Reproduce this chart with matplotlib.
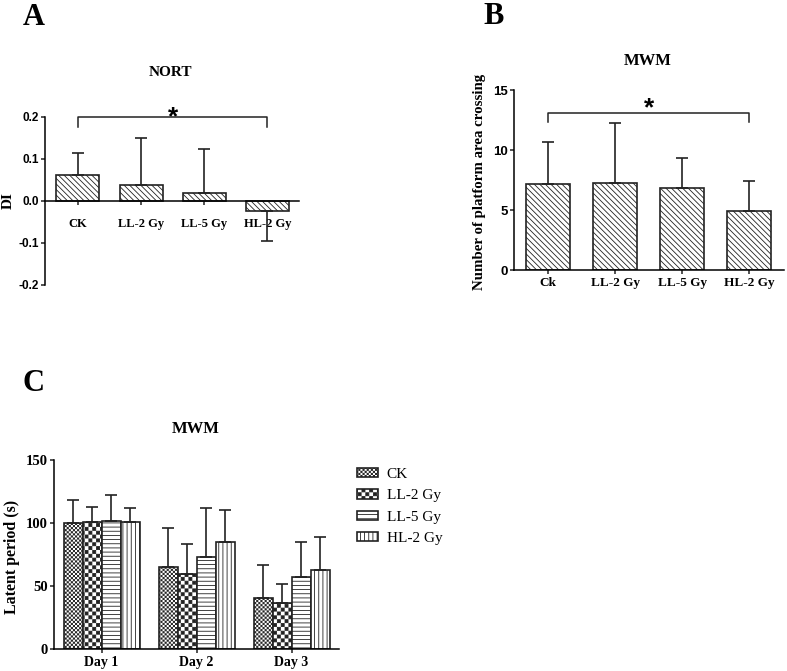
import numpy as np
import matplotlib
matplotlib.use("Agg")
import matplotlib.pyplot as plt
import matplotlib.hatch as mhatch
from matplotlib.path import Path

# ---------------- data ----------------
nort_groups = ["CK", "LL-2 Gy", "LL-5 Gy", "HL-2 Gy"]
nort_mean = [0.062, 0.037, 0.020, -0.023]
nort_err = [0.053, 0.113, 0.104, 0.072]

mwm_groups = ["Ck", "LL-2 Gy", "LL-5 Gy", "HL-2 Gy"]
mwm_mean = [7.2, 7.25, 6.8, 4.9]
mwm_err = [3.5, 5.0, 2.55, 2.55]

days = ["Day 1", "Day 2", "Day 3"]
lat_series = ["CK", "LL-2 Gy", "LL-5 Gy", "HL-2 Gy"]
lat_mean = {
    "CK": [100.0, 65.5, 40.5],
    "LL-2 Gy": [101.0, 59.5, 37.0],
    "LL-5 Gy": [102.0, 73.5, 57.0],
    "HL-2 Gy": [101.0, 85.0, 63.0],
}
lat_err = {
    "CK": [18.0, 30.5, 26.5],
    "LL-2 Gy": [12.0, 24.0, 14.5],
    "LL-5 Gy": [20.0, 38.5, 28.0],
    "HL-2 Gy": [11.0, 25.0, 26.0],
}

# ---------------- custom checkerboard hatch (uses '*') ----------------
HATCH_LW = 0.6
plt.rcParams['hatch.linewidth'] = HATCH_LW


class CheckerHatch(mhatch.HatchPatternBase):
    def __init__(self, hatch, density):
        self.n = 2 * hatch.count('*')
        if self.n == 0:
            self.cells = []
        else:
            self.cells = [(i, j) for i in range(self.n) for j in range(self.n)
                          if (i + j) % 2 == 0]
        self.num_vertices = len(self.cells) * 5

    def set_vertices_and_codes(self, vertices, codes):
        c = 1.0 / self.n
        inset = HATCH_LW / 72.0 / 2.0
        k = 0
        for (i, j) in self.cells:
            x0, y0 = i * c + inset, j * c + inset
            x1, y1 = (i + 1) * c - inset, (j + 1) * c - inset
            vertices[k:k + 5] = [(x0, y0), (x1, y0), (x1, y1), (x0, y1), (x0, y0)]
            codes[k:k + 5] = [Path.MOVETO, Path.LINETO, Path.LINETO,
                              Path.LINETO, Path.CLOSEPOLY]
            k += 5


for idx, t in enumerate(mhatch._hatch_types):
    if t is mhatch.Stars:
        mhatch._hatch_types[idx] = CheckerHatch

SERIF = "Liberation Serif"
SANS = "Liberation Sans"
plt.rcParams['axes.linewidth'] = 1.1
DIAG = '\\' * 6

W, H = 787, 671
fig = plt.figure(figsize=(W / 100, H / 100), dpi=100)


def fx(px):
    return px / W


def fy(py):
    return 1 - py / H


def axes_px(l, t, r, b):
    return fig.add_axes([fx(l), fy(b), (r - l) / W, (b - t) / H])


def style_axes(ax):
    for s in ['top', 'right']:
        ax.spines[s].set_visible(False)
    ax.tick_params(axis='both', direction='out', length=3, width=1.1, color='#222222')


# ---------------- Panel A ----------------
axA = axes_px(45, 117, 299, 285)
style_axes(axA)
xA = np.arange(len(nort_groups))
errA_lo = [e if m < 0 else 0 for m, e in zip(nort_mean, nort_err)]
errA_hi = [e if m >= 0 else 0 for m, e in zip(nort_mean, nort_err)]
axA.bar(xA, nort_mean, width=0.68, color='white', edgecolor='#222222',
        linewidth=1.2, hatch=DIAG, zorder=2)
axA.errorbar(xA, nort_mean, yerr=[errA_lo, errA_hi], fmt='none', ecolor='#222222',
             elinewidth=1.2, capsize=4.5, capthick=1.2, zorder=3)
axA.set_xlim(-0.52, 3.5)
axA.set_ylim(-0.2, 0.2)
axA.spines['bottom'].set_position(('data', 0))
axA.set_yticks([-0.2, -0.1, 0.0, 0.1, 0.2])
axA.set_yticklabels([f"{v:.1f}" for v in [-0.2, -0.1, 0.0, 0.1, 0.2]],
                    fontfamily=SANS, fontweight='bold', fontsize=8.5)
axA.set_xticks(xA)
axA.set_xticklabels(nort_groups, fontfamily=SERIF, fontweight='bold', fontsize=9)
axA.tick_params(axis='x', pad=9)
axA.tick_params(axis='y', pad=1.5)
# significance bracket
axA.plot([xA[0], xA[0], xA[3], xA[3]], [0.177, 0.2, 0.2, 0.177], color='#222222',
         lw=1.1, clip_on=False, zorder=4)
axA.annotate('*', xy=((xA[0] + xA[3]) / 2, 0.2), xytext=(0, -5.5), textcoords='offset points',
             ha='center', va='baseline', fontsize=19, fontweight='bold', fontfamily=SANS,
             annotation_clip=False)

fig.text(fx(170), fy(72), "NORT", ha='center', va='center', fontfamily=SERIF,
         fontweight='bold', fontsize=11)
fig.text(fx(8), fy(201), "DI", rotation=90, ha='center', va='center', fontfamily=SERIF,
         fontweight='bold', fontsize=11)
fig.text(fx(23), fy(25), "A", ha='left', va='baseline', fontfamily=SERIF,
         fontweight='bold', fontsize=22)

# ---------------- Panel B ----------------
axB = axes_px(514, 90, 784, 270)
style_axes(axB)
xB = np.arange(len(mwm_groups))
axB.bar(xB, mwm_mean, width=0.65, color='white', edgecolor='#222222',
        linewidth=1.2, hatch=DIAG, zorder=2)
axB.errorbar(xB, mwm_mean, yerr=[[0] * len(mwm_err), mwm_err], fmt='none', ecolor='#222222',
             elinewidth=1.2, capsize=4.5, capthick=1.2, zorder=3)
axB.set_xlim(-0.51, 3.52)
axB.set_ylim(0, 15)
axB.set_yticks([0, 5, 10, 15])
axB.set_yticklabels(["0", "5", "10", "15"], fontfamily=SANS, fontweight='bold', fontsize=9.5)
axB.set_xticks(xB)
axB.set_xticklabels(mwm_groups, fontfamily=SERIF, fontweight='bold', fontsize=9.5)
axB.tick_params(axis='x', pad=2)
axB.tick_params(axis='y', pad=1.5)
axB.plot([xB[0], xB[0], xB[3], xB[3]], [12.3, 13.1, 13.1, 12.3], color='#222222',
         lw=1.1, clip_on=False, zorder=4)
axB.annotate('*', xy=((xB[0] + xB[3]) / 2, 13.1), xytext=(0, -1.5), textcoords='offset points',
             ha='center', va='baseline', fontsize=19, fontweight='bold', fontfamily=SANS,
             annotation_clip=False)

fig.text(fx(648), fy(61), "MWM", ha='center', va='center', fontfamily=SERIF,
         fontweight='bold', fontsize=12)
fig.text(fx(480), fy(182), "Number of platform area crossing", rotation=90, ha='center',
         va='center', fontfamily=SERIF, fontweight='bold', fontsize=10.7)
fig.text(fx(483), fy(24), "B", ha='left', va='baseline', fontfamily=SERIF,
         fontweight='bold', fontsize=22)

# ---------------- Panel C ----------------
axC = axes_px(54, 460, 339, 649.3)
style_axes(axC)
xC = np.arange(len(days))
hatches = ['*' * 24, '*' * 13, '----', '||||']
bw = 0.2
handles = []
for k, name in enumerate(lat_series):
    off = (k - 1.5) * bw
    b = axC.bar(xC + off, lat_mean[name], width=bw, color='white', edgecolor='#222222',
                linewidth=1.2, hatch=hatches[k], zorder=2, label=name)
    axC.errorbar(xC + off, lat_mean[name], yerr=[[0] * len(days), lat_err[name]], fmt='none',
                 ecolor='#222222', elinewidth=1.2, capsize=4, capthick=1.2, zorder=3)
    handles.append(b)
axC.set_xlim(-0.5, 2.5)
axC.set_ylim(0, 150)
axC.set_yticks([0, 50, 100, 150])
axC.set_yticklabels(["0", "50", "100", "150"], fontfamily=SERIF, fontweight='bold', fontsize=10.5)
axC.set_xticks(xC)
axC.set_xticklabels(days, fontfamily=SERIF, fontweight='bold', fontsize=10)
axC.tick_params(axis='x', pad=2)
axC.tick_params(axis='y', pad=1.5)

leg = axC.legend(handles=handles, loc='upper left', bbox_to_anchor=(fx(357), fy(468)),
                 bbox_transform=fig.transFigure, frameon=False, borderaxespad=0, borderpad=0,
                 prop={'family': SERIF, 'size': 11}, handlelength=1.35, handleheight=0.55,
                 handletextpad=0.6, labelspacing=0.55)

fig.text(fx(196), fy(429), "MWM", ha='center', va='center', fontfamily=SERIF,
         fontweight='bold', fontsize=12)
fig.text(fx(12), fy(557), "Latent period (s)", rotation=90, ha='center',
         va='center', fontfamily=SERIF, fontweight='bold', fontsize=11.4)
fig.text(fx(23), fy(391), "C", ha='left', va='baseline', fontfamily=SERIF,
         fontweight='bold', fontsize=22)

fig.savefig("out.png", dpi=100)
